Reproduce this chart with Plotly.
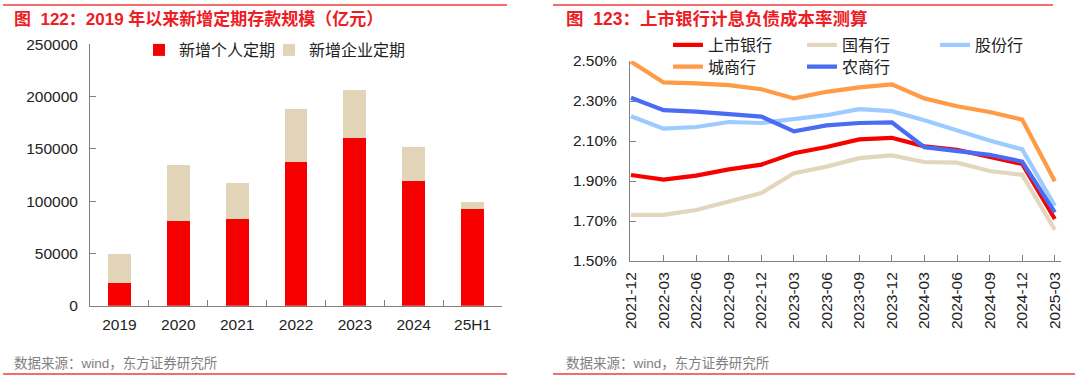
import plotly.graph_objects as go

# ---- data: left chart (亿元) ----
years = ["2019", "2020", "2021", "2022", "2023", "2024", "25H1"]
personal = [21400, 81000, 82900, 137400, 160100, 119300, 92500]
corporate_total = [49200, 134600, 117600, 187800, 206600, 151800, 98900]
corporate = [t - p for t, p in zip(corporate_total, personal)]

# ---- data: right chart (%) ----
quarters = ["2021-12", "2022-03", "2022-06", "2022-09", "2022-12", "2023-03", "2023-06",
            "2023-09", "2023-12", "2024-03", "2024-06", "2024-09", "2024-12", "2025-03"]
listed = [1.93, 1.907, 1.927, 1.958, 1.982, 2.039, 2.07, 2.108, 2.116, 2.073, 2.056, 2.018, 1.985, 1.71]
state = [1.731, 1.731, 1.755, 1.798, 1.84, 1.939, 1.972, 2.014, 2.028, 1.995, 1.992, 1.95, 1.931, 1.656]
joint = [2.224, 2.162, 2.17, 2.195, 2.19, 2.207, 2.229, 2.259, 2.249, 2.204, 2.153, 2.103, 2.058, 1.776]
city = [2.497, 2.393, 2.388, 2.379, 2.359, 2.313, 2.346, 2.368, 2.383, 2.313, 2.274, 2.245, 2.207, 1.899]
rural = [2.316, 2.254, 2.247, 2.237, 2.222, 2.148, 2.178, 2.19, 2.193, 2.069, 2.05, 2.031, 1.997, 1.743]

y_ticks_left = [0, 50000, 100000, 150000, 200000, 250000]
y_ticks_right = [1.5, 1.7, 1.9, 2.1, 2.3, 2.5]

W, H = 1080, 383
FONT = "Liberation Sans, Arial, Noto Sans CJK SC, sans-serif"
RED_T = "#EE1C25"
AX = "#808080"

def px_x(p):
    return p / W

def px_y(p):
    return 1 - p / H

fig = go.Figure()

fig.add_trace(go.Bar(x=years, y=personal, name="新增个人定期", marker=dict(color="#F70000", line=dict(width=0)),
                     width=0.39, xaxis="x", yaxis="y", legend="legend"))
fig.add_trace(go.Bar(x=years, y=corporate, name="新增企业定期", marker=dict(color="#E2D4B7", line=dict(width=0)),
                     width=0.39, xaxis="x", yaxis="y", legend="legend2"))

series = [
    ("上市银行", listed, "#F70000"),
    ("国有行", state, "#E2D6BC"),
    ("股份行", joint, "#9DCBFF"),
    ("城商行", city, "#FF9A45"),
    ("农商行", rural, "#4A6CF5"),
]
for k, (name, vals, col) in enumerate(series):
    fig.add_trace(go.Scatter(x=quarters, y=vals, name=name, mode="lines",
                             line=dict(color=col, width=4.2), xaxis="x2", yaxis="y2",
                             legend=f"legend{k + 3}"))

tickfont = dict(family=FONT, size=15.5, color="#222")
legfont = dict(family=FONT, size=16, color="#222")

def leg(xpx, ypx):
    return dict(orientation="v", x=px_x(xpx), y=px_y(ypx), xanchor="left", yanchor="middle",
                font=legfont, bgcolor="rgba(0,0,0,0)", borderwidth=0)

fig.update_layout(
    width=W, height=H,
    margin=dict(l=0, r=0, t=0, b=0, autoexpand=False),
    paper_bgcolor="white", plot_bgcolor="white",
    barmode="stack",
    font=dict(family=FONT, color="#222"),
    xaxis=dict(domain=[px_x(90), px_x(502)], type="category", range=[-0.5, 6.5],
               showline=True, linecolor=AX, linewidth=1, ticks="inside", ticklen=6, tickcolor=AX,
               tickson="boundaries", tickfont=tickfont, showgrid=False, anchor="y",
               ticklabelstandoff=5),
    yaxis=dict(domain=[px_y(305.7), px_y(44.3)], range=[0, 250000], tickvals=y_ticks_left,
               showline=True, linecolor=AX, linewidth=1, ticks="inside", ticklen=6, tickcolor=AX,
               tickfont=tickfont, showgrid=False, zeroline=False, anchor="x", tickformat="d",
               ticklabelstandoff=8),
    xaxis2=dict(domain=[px_x(630), px_x(1061)], type="category", range=[-0.03, 13.19],
                showline=True, linecolor=AX, linewidth=1, ticks="inside", ticklen=6, tickcolor=AX,
                tickangle=-90, tickfont=dict(family=FONT, size=15.5, color="#222"), showgrid=False,
                anchor="y2", ticklabelstandoff=4),
    yaxis2=dict(domain=[px_y(261), px_y(61)], range=[1.5, 2.5], tickvals=y_ticks_right,
                ticktext=[f"{v:.2f}%" for v in y_ticks_right],
                showline=True, linecolor=AX, linewidth=1, ticks="inside", ticklen=6, tickcolor=AX,
                tickfont=tickfont, showgrid=False, zeroline=False, anchor="x2", ticklabelstandoff=9),
    legend=leg(139, 50),
    legend2=leg(269, 50),
    legend3=leg(668, 45),
    legend4=leg(802, 45),
    legend5=leg(935, 45),
    legend6=leg(668, 66.7),
    legend7=leg(802, 66.7),
    showlegend=True,
)

# titles, sources and decorative rules
fig.add_annotation(text="<b>图  122：2019 年以来新增定期存款规模（亿元）</b>", x=px_x(12), y=px_y(19),
                   xref="paper", yref="paper", xanchor="left", yanchor="middle", showarrow=False,
                   font=dict(family=FONT, size=17, color=RED_T))
fig.add_annotation(text="<b>图  123：上市银行计息负债成本率测算</b>", x=px_x(564), y=px_y(19),
                   xref="paper", yref="paper", xanchor="left", yanchor="middle", showarrow=False,
                   font=dict(family=FONT, size=17.5, color=RED_T))
for x0 in (12, 564):
    fig.add_annotation(text="数据来源：wind，东方证券研究所", x=px_x(x0), y=px_y(363),
                       xref="paper", yref="paper", xanchor="left", yanchor="middle", showarrow=False,
                       font=dict(family=FONT, size=13.5, color="#808080"))
rules = [(3, 507, 5), (3, 507, 374), (553, 1053, 5), (553, 1075, 374)]
for (x0, x1, yy) in rules:
    fig.add_shape(type="line", xref="paper", yref="paper", x0=px_x(x0), x1=px_x(x1),
                  y0=px_y(yy), y1=px_y(yy), line=dict(color="#F03C3C", width=1.5))

# the page body has a default 8px margin; remove it so the figure sits at the window origin
fig.write_html("out.html", config={"displayModeBar": False},
               post_script="document.body.style.margin='0';")
